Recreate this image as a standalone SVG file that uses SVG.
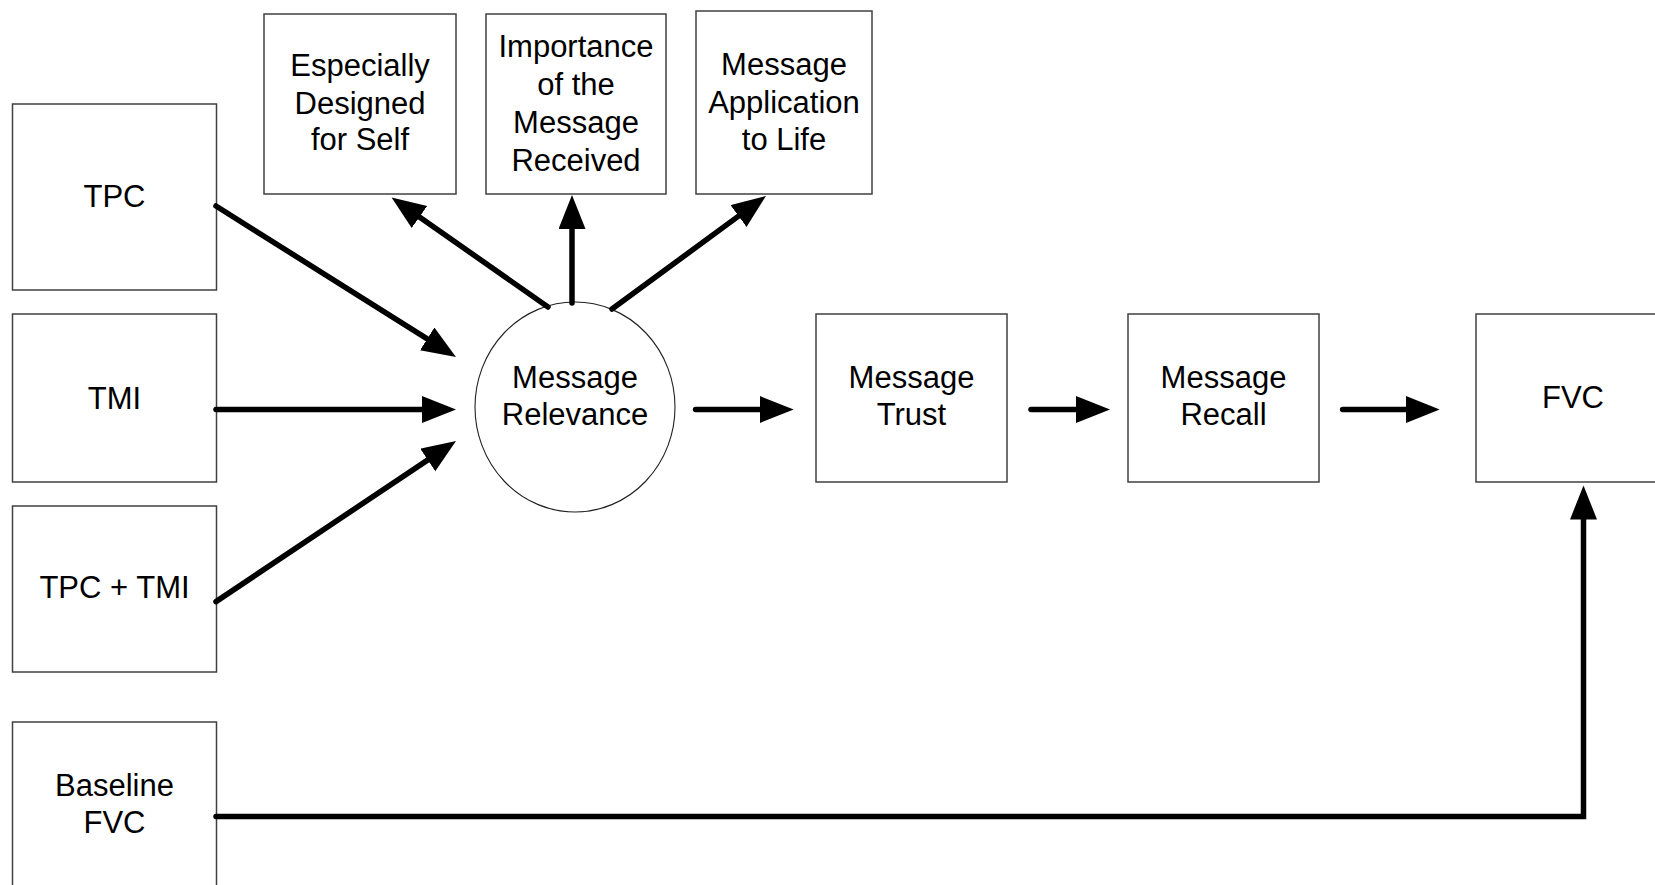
<svg xmlns="http://www.w3.org/2000/svg" width="1655" height="885" viewBox="0 0 1655 885">
<defs>
<style>
.box{fill:#fff;stroke:#404040;stroke-width:1.5}
.ell{fill:#fff;stroke:#202020;stroke-width:1.1}
.t{font-family:"Liberation Sans",Arial,sans-serif;font-size:31px;fill:#000;text-anchor:middle}
.c{fill:none;stroke:#000;stroke-width:5.5;stroke-linecap:round;stroke-linejoin:miter}
</style>
<marker id="ah" markerUnits="userSpaceOnUse" markerWidth="36" markerHeight="30" refX="24" refY="13.5" orient="auto">
<path d="M0,0 L34,13.5 L0,27 z" fill="#000"/>
</marker>
</defs>
<rect width="1655" height="885" fill="#fff"/>

<g id="tpc"><rect class="box" x="12.5" y="104" width="204" height="186"/><text class="t" x="114.5" y="207">TPC</text></g>
<g id="tmi"><rect class="box" x="12.5" y="314" width="204" height="168"/><text class="t" x="114.5" y="409">TMI</text></g>
<g id="tpctmi"><rect class="box" x="12.5" y="506" width="204" height="166"/><text class="t" x="114.5" y="598">TPC + TMI</text></g>
<g id="baseline"><rect class="box" x="12.5" y="722" width="204" height="200"/><text class="t" x="114.5" y="796">Baseline</text><text class="t" x="114.5" y="833">FVC</text></g>

<g id="especially"><rect class="box" x="264" y="14" width="192" height="180"/><text class="t" x="360" y="76">Especially</text><text class="t" x="360" y="114">Designed</text><text class="t" x="360" y="150">for Self</text></g>
<g id="importance"><rect class="box" x="486" y="14" width="180" height="180"/><text class="t" x="576" y="57">Importance</text><text class="t" x="576" y="95">of the</text><text class="t" x="576" y="133">Message</text><text class="t" x="576" y="171">Received</text></g>
<g id="application"><rect class="box" x="696" y="11" width="176" height="183"/><text class="t" x="784" y="75">Message</text><text class="t" x="784" y="113">Application</text><text class="t" x="784" y="150">to Life</text></g>

<g id="relevance"><ellipse class="ell" cx="575" cy="407" rx="100" ry="105"/><text class="t" x="575" y="388">Message</text><text class="t" x="575" y="425">Relevance</text></g>
<g id="trust"><rect class="box" x="816" y="314" width="191" height="168"/><text class="t" x="911.5" y="388">Message</text><text class="t" x="911.5" y="425">Trust</text></g>
<g id="recall"><rect class="box" x="1128" y="314" width="191" height="168"/><text class="t" x="1223.5" y="388">Message</text><text class="t" x="1223.5" y="425">Recall</text></g>
<g id="fvc"><rect class="box" x="1476" y="314" width="194" height="168"/><text class="t" x="1573" y="408">FVC</text></g>

<g id="connectors">
<path class="c" d="M216,206 L447.5,351.7" marker-end="url(#ah)"/>
<path class="c" d="M216,409.5 L446,409.5" marker-end="url(#ah)"/>
<path class="c" d="M216,601.6 L447.7,446.6" marker-end="url(#ah)"/>
<path class="c" d="M548,307 L399.8,203.2" marker-end="url(#ah)"/>
<path class="c" d="M572,303 L572,205" marker-end="url(#ah)"/>
<path class="c" d="M612,309 L757.9,201.9" marker-end="url(#ah)"/>
<path class="c" d="M695.6,409.5 L783.7,409.5" marker-end="url(#ah)"/>
<path class="c" d="M1031,409.5 L1100,409.5" marker-end="url(#ah)"/>
<path class="c" d="M1342.6,409.5 L1429.7,409.5" marker-end="url(#ah)"/>
<path class="c" d="M216,816.5 L1583.5,816.5 L1583.5,495.5" marker-end="url(#ah)"/>
</g>
</svg>
